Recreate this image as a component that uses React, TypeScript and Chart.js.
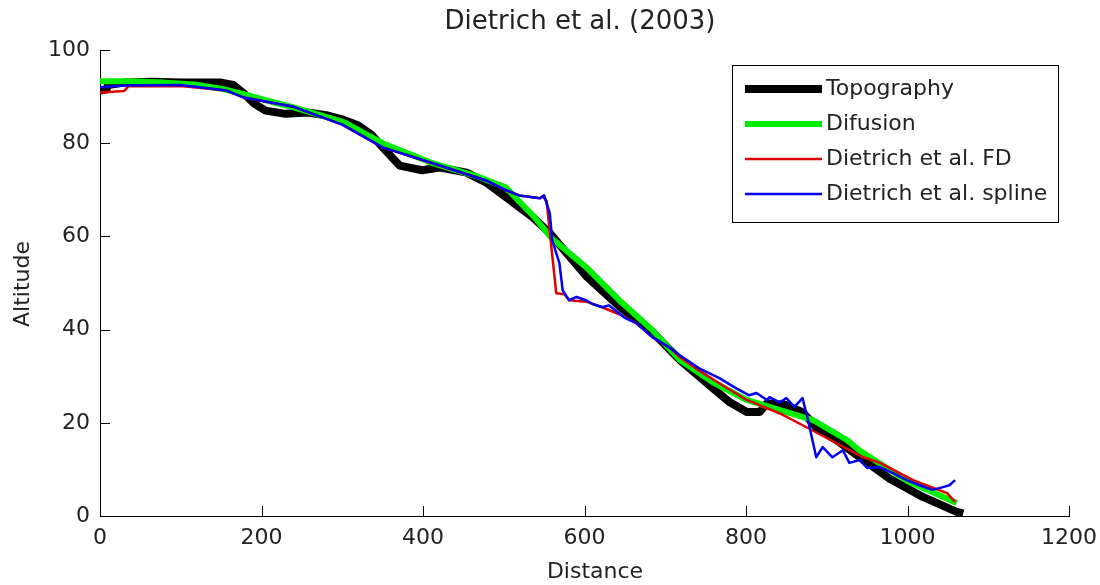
import React, { useEffect, useRef } from "react";
import { Chart, registerables } from "chart.js";

Chart.register(...registerables);

const titleText = "Dietrich et al. (2003)";
const xLabel = "Distance";
const yLabel = "Altitude";
const xTicks = [0, 200, 400, 600, 800, 1000, 1200];
const yTicks = [0, 20, 40, 60, 80, 100];
const legendLabels = ["Topography", "Difusion", "Dietrich et al. FD", "Dietrich et al. spline"];
const seriesColors = ["#000000", "#00ee00", "#e00000", "#0000ee"];
const seriesWidths = [8, 6, 2.5, 2.5];

const topoX = [0, 8, 10, 30, 64, 100, 150, 165, 178, 191, 205, 230, 257, 280, 302, 320, 337, 350, 371, 399, 420, 454, 478, 503, 519, 536, 557, 580, 602, 643, 684, 718, 759, 780, 801, 817, 826, 850, 870, 888, 912, 941, 978, 1019, 1061, 1069];
const topoY = [91.3, 91.5, 92.5, 93, 93.2, 93, 93, 92.5, 90.7, 88.5, 87, 86.3, 86.6, 86, 85, 83.8, 81.7, 79.1, 75.2, 74.2, 74.8, 73.7, 71.6, 68.4, 66.3, 64.1, 60.7, 56, 51.5, 45, 39.5, 33.5, 27.4, 24.4, 22.3, 22.3, 24.2, 23.8, 22.3, 18.9, 16.3, 12.6, 8, 4.1, 0.9, 0.5];

const diffX = [0, 36, 80, 117, 150, 178, 210, 240, 302, 350, 412, 470, 503, 519, 536, 560, 602, 643, 684, 718, 759, 801, 842, 883, 925, 941, 1000, 1061];
const diffY = [93.3, 93.3, 93, 92.6, 91.7, 90.5, 89, 87.7, 84.5, 80, 75.7, 72.7, 70.5, 67.5, 64.5, 59.5, 53.4, 46.3, 39.9, 33.5, 28.7, 24.9, 22.7, 20.6, 16.3, 14, 7.5, 2.8];

const fdX = [0, 30, 35, 100, 157, 178, 240, 300, 350, 412, 478, 503, 519, 545, 548, 553, 559, 565, 575, 581, 602, 622, 643, 664, 684, 705, 718, 742, 767, 801, 842, 882, 945, 966, 1007, 1049, 1059];
const fdY = [90.9, 91.2, 92.2, 92.3, 91.3, 89.8, 87.8, 84, 79.1, 75.7, 72, 69.9, 68.8, 68.2, 68.6, 67.7, 57.7, 47.8, 47.6, 46.3, 46, 44.8, 43.3, 41.4, 38.4, 36.2, 34.1, 31.2, 28.5, 24.9, 22, 18.4, 12.6, 11.4, 7.7, 4.9, 3.0];

const splineX = [0, 30, 100, 157, 178, 240, 300, 350, 412, 478, 503, 519, 545, 550, 557, 560, 569, 573, 581, 590, 602, 610, 622, 630, 643, 650, 664, 684, 705, 718, 742, 767, 788, 804, 813, 826, 829, 842, 850, 860, 870, 876, 887, 895, 907, 920, 928, 941, 950, 966, 982, 999, 1015, 1031, 1044, 1052, 1059];
const splineY = [92, 92.4, 92.5, 91.3, 89.8, 87.8, 84, 79.1, 75.7, 72, 69.9, 68.8, 68.2, 68.8, 65, 59.2, 54.2, 48.4, 46.3, 47, 46.3, 45.5, 44.8, 45.2, 43.5, 42.5, 41.4, 38.4, 36.2, 34.5, 31.7, 29.6, 27.4, 25.9, 26.4, 24.9, 25.5, 24.4, 25.3, 23.4, 25.3, 21.2, 12.6, 14.8, 12.6, 14.1, 11.4, 12, 10.3, 10.5, 9.2, 7.7, 6.6, 5.6, 6.2, 6.6, 7.7];

const toPts = (xs: number[], ys: number[]) => xs.map((x, i) => ({ x, y: ys[i] }));

const FONT = '"DejaVu Sans", sans-serif';

const overlay = {
  id: "overlay",
  afterDraw(chart: any) {
    const { ctx, chartArea, scales } = chart;
    const xs = scales.x;
    const ys = scales.y;
    ctx.save();
    ctx.strokeStyle = "#000";
    ctx.lineWidth = 1;
    yTicks.forEach((v) => {
      if (v === 0) return;
      const py = Math.round(ys.getPixelForValue(v)) + 0.5;
      ctx.beginPath();
      ctx.moveTo(chartArea.left, py);
      ctx.lineTo(chartArea.left + 10, py);
      ctx.stroke();
    });
    xTicks.forEach((v) => {
      if (v === 0) return;
      const px = Math.round(xs.getPixelForValue(v)) + 0.5;
      ctx.beginPath();
      ctx.moveTo(px, chartArea.bottom);
      ctx.lineTo(px, chartArea.bottom - 10);
      ctx.stroke();
    });

    ctx.fillStyle = "#222";
    ctx.textAlign = "center";
    ctx.textBaseline = "middle";
    ctx.font = "26px " + FONT;
    ctx.fillText(titleText, 580, 22);
    ctx.font = "22px " + FONT;
    ctx.fillText(xLabel, 595, 572);
    ctx.save();
    ctx.translate(23, 284);
    ctx.rotate(-Math.PI / 2);
    ctx.fillText(yLabel, 0, 0);
    ctx.restore();

    // legend
    const bx = 732, by = 65, bw = 326, bh = 157;
    ctx.fillStyle = "#fff";
    ctx.fillRect(bx, by, bw, bh);
    ctx.strokeStyle = "#000";
    ctx.lineWidth = 1;
    ctx.strokeRect(bx + 0.5, by + 0.5, bw, bh);
    const rows = [89, 124, 159, 194];
    legendLabels.forEach((lab, i) => {
      ctx.strokeStyle = seriesColors[i];
      ctx.lineWidth = seriesWidths[i];
      ctx.lineCap = "butt";
      ctx.beginPath();
      ctx.moveTo(745, rows[i]);
      ctx.lineTo(822, rows[i]);
      ctx.stroke();
      ctx.fillStyle = "#222";
      ctx.textAlign = "left";
      ctx.textBaseline = "middle";
      ctx.font = "22px " + FONT;
      ctx.fillText(lab, 826, rows[i]);
    });
    ctx.restore();
  },
};

export default function App() {
  const ref = useRef<HTMLCanvasElement | null>(null);
  useEffect(() => {
    if (!ref.current) return;
    const series = [
      { xs: topoX, ys: topoY },
      { xs: diffX, ys: diffY },
      { xs: fdX, ys: fdY },
      { xs: splineX, ys: splineY },
    ];
    const chart = new Chart(ref.current, {
      type: "line",
      data: {
        datasets: series.map((s, i) => ({
          label: legendLabels[i],
          data: toPts(s.xs, s.ys),
          borderColor: seriesColors[i],
          backgroundColor: seriesColors[i],
          borderWidth: seriesWidths[i],
          pointRadius: 0,
          tension: 0,
          fill: false,
          order: 4 - i,
          borderJoinStyle: "round" as const,
        })),
      },
      options: {
        responsive: false,
        animation: false,
        layout: { padding: { top: 50, right: 31, left: 0, bottom: 0 } },
        plugins: {
          legend: { display: false },
          title: { display: false },
          tooltip: { enabled: false },
        },
        scales: {
          x: {
            type: "linear",
            min: 0,
            max: 1200,
            afterFit: (s: any) => {
              s.height = 69;
              s.paddingLeft = 0;
              s.paddingRight = 0;
            },
            afterBuildTicks: (s: any) => {
              s.ticks = xTicks.map((v) => ({ value: v }));
            },
            grid: { display: false, drawTicks: false },
            border: { display: true, color: "#000", width: 1 },
            ticks: {
              padding: 9,
              maxRotation: 0,
              color: "#222",
              font: { family: FONT, size: 22 },
              callback: (v: any) => String(v),
            },
          },
          y: {
            type: "linear",
            min: 0,
            max: 100,
            afterFit: (s: any) => {
              s.width = 100;
              s.paddingTop = 0;
              s.paddingBottom = 0;
            },
            afterBuildTicks: (s: any) => {
              s.ticks = yTicks.map((v) => ({ value: v }));
            },
            grid: { display: false, drawTicks: false },
            border: { display: true, color: "#000", width: 1 },
            ticks: {
              padding: 10,
              color: "#222",
              font: { family: FONT, size: 22 },
              callback: (v: any) => String(v),
            },
          },
        },
      },
      plugins: [overlay],
    });
    return () => chart.destroy();
  }, []);
  return (
    <div style={{ position: "absolute", left: 0, top: 0, width: 1100, height: 585, background: "#fff" }}>
      <canvas ref={ref} width={1100} height={585} style={{ display: "block" }} />
    </div>
  );
}
